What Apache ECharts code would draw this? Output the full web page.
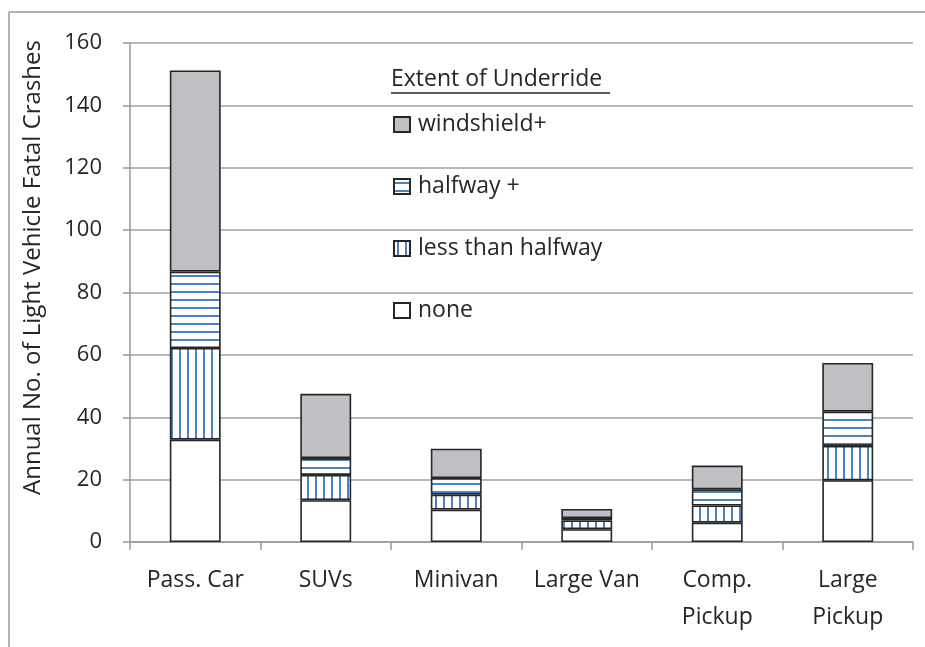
<!DOCTYPE html>
<html>
<head>
<meta charset="utf-8">
<script src="https://cdn.jsdelivr.net/npm/echarts@6/dist/echarts.min.js"></script>
<style>
  html, body { margin: 0; padding: 0; background: #fff; }
  #chart { width: 925px; height: 647px; }
</style>
</head>
<body>
<div id="chart"></div>
<script>
// data
const categories = ["Pass. Car", "SUVs", "Minivan", "Large Van", "Comp.\nPickup", "Large\nPickup"];
const noneVals = [32.8, 13.4, 10.4, 4.1, 6.2, 19.8];
const lessVals = [29.4, 8.1, 4.8, 2.8, 5.5, 11.0];
const halfwayVals = [24.5, 5.4, 5.3, 0.8, 5.2, 11.0];
const windshieldVals = [64.5, 20.6, 9.4, 2.9, 7.6, 15.6];
const yTicks = [0, 20, 40, 60, 80, 100, 120, 140, 160];

const FONT = "'Open Sans', Lato, sans-serif";
const BLUE = "#4F81BD";
const EDGE = "#262626";

function makePattern(vertical) {
  const c = document.createElement("canvas");
  c.width = 8;
  c.height = 8;
  const ctx = c.getContext("2d");
  ctx.fillStyle = "#fff";
  ctx.fillRect(0, 0, 8, 8);
  ctx.fillStyle = BLUE;
  if (vertical) ctx.fillRect(3, 0, 2, 8);
  else ctx.fillRect(0, 3, 8, 2);
  return { image: c, repeat: "repeat" };
}

const chart = echarts.init(document.getElementById("chart"));

function barSeries(name, data, fill) {
  return {
    name: name,
    type: "bar",
    stack: "total",
    barWidth: "39%",
    data: data,
    itemStyle: { color: fill, borderColor: EDGE, borderWidth: 1.6 },
  };
}

chart.setOption({
  animation: false,
  textStyle: { fontFamily: FONT },
  grid: { left: 130, right: 12, top: 43, bottom: 105 },
  legend: {
    orient: "vertical",
    left: 393,
    top: 113,
    padding: 0,
    itemWidth: 16,
    itemHeight: 15,
    itemGap: 39,
    icon: "rect",
    data: ["windshield+", "halfway +", "less than halfway", "none"],
    textStyle: { fontSize: 23, lineHeight: 22, color: EDGE, fontFamily: FONT, padding: [0, 0, 0, 3] },
  },
  graphic: [
    { type: "line", shape: { x1: 9, y1: 12, x2: 925, y2: 12 }, style: { stroke: "#999", lineWidth: 1.5 } },
    { type: "line", shape: { x1: 9, y1: 12, x2: 9, y2: 647 }, style: { stroke: "#999", lineWidth: 1.5 } },
    {
      type: "text",
      left: 391,
      top: 68,
      style: { text: "Extent of Underride", fontSize: 23, fill: EDGE, fontFamily: FONT },
    },
    { type: "line", shape: { x1: 391, y1: 93, x2: 610, y2: 93 }, style: { stroke: EDGE, lineWidth: 1.3 } },
  ],
  xAxis: {
    type: "category",
    data: categories,
    axisLine: { lineStyle: { color: "#999", width: 1.5 } },
    axisTick: { show: true, length: 8, lineStyle: { color: "#999", width: 1.5 } },
    axisLabel: { fontSize: 23, color: EDGE, lineHeight: 37, margin: 20, interval: 0 },
  },
  yAxis: {
    type: "value",
    min: yTicks[0],
    max: yTicks[yTicks.length - 1],
    interval: 20,
    name: "Annual No. of Light Vehicle Fatal Crashes",
    nameLocation: "middle",
    nameGap: 85,
    nameTextStyle: { fontSize: 24, color: EDGE, padding: [0, 0, 0, 50] },
    axisLine: { show: true, lineStyle: { color: "#999", width: 1.5 } },
    axisTick: { show: true, length: 7, lineStyle: { color: "#999", width: 1.5 } },
    axisLabel: { fontSize: 22, color: EDGE, margin: 28 },
    splitLine: { lineStyle: { color: "#A0A0A0", width: 1.5 } },
  },
  series: [
    barSeries("none", noneVals, "#fff"),
    barSeries("less than halfway", lessVals, makePattern(true)),
    barSeries("halfway +", halfwayVals, makePattern(false)),
    barSeries("windshield+", windshieldVals, "#C0C0C4"),
  ],
});
</script>
</body>
</html>
